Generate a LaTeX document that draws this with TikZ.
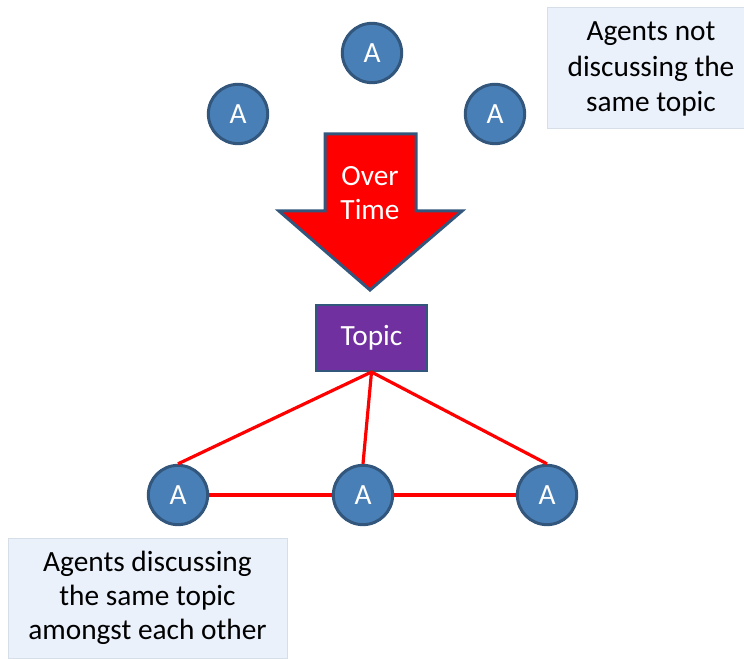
\documentclass[tikz,border=0pt]{standalone}
\usepackage{fontspec}
\setmainfont{Carlito}
\definecolor{agentfill}{RGB}{72,127,182}
\definecolor{agentedge}{RGB}{50,86,124}
\definecolor{topicfill}{RGB}{112,48,160}
\definecolor{noteback}{RGB}{234,241,251}
\definecolor{noteedge}{RGB}{214,222,232}
\begin{document}
\begin{tikzpicture}[x=0.75pt,y=-0.75pt,
  every node/.style={font=\fontsize{22}{25.5}\selectfont},
  agent/.style={circle, draw=agentedge, fill=agentfill, line width=2.25pt,
    minimum size=44.5pt, inner sep=0pt, text=white},
  topicbox/.style={rectangle, draw=agentedge, fill=topicfill, line width=1.5pt,
    minimum width=83pt, minimum height=49.5pt, text=white},
  note/.style={rectangle, draw=noteedge, fill=noteback, line width=0.6pt,
    align=center, text=black},
  link/.style={draw=red, line width=2.4pt}]
\useasboundingbox (0,0) rectangle (744,659);
\clip (0,0) rectangle (744,659);

% agents before converging on a topic
\node[agent] (t1) at (372,53) {A};
\node[agent] (t2) at (238,114) {A};
\node[agent] (t3) at (495,114) {A};

% note, top right
\node[note, minimum width=156pt, minimum height=90.75pt] (n1) at (651,67.5) {};
\node[align=center, font=\fontsize{22}{26.5}\selectfont] (n1text) at (651,69)
  {Agents not\\discussing the\\same topic};

% big downward arrow
\filldraw[fill=red, draw=agentedge, line width=2.25pt, line join=miter]
  (325,134) -- (416,134) -- (416,211) -- (462,211) -- (370,290)
  -- (279,211) -- (325,211) -- cycle;
\node[align=center, text=white] (ot) at (370,193.5) {Over\\Time};

% shared topic
\node[topicbox] (topic) at (371.5,338) {Topic};

% agents discussing the topic
\node[agent] (b1) at (178,495) {A};
\node[agent] (b2) at (363,495) {A};
\node[agent] (b3) at (547,495) {A};

\draw[link] (topic.south) -- (b1.north);
\draw[link] (topic.south) -- (b2.north);
\draw[link] (topic.south) -- (b3.north);
\draw[link] (b1.east) -- (b2.west);
\draw[link] (b2.east) -- (b3.west);

% note, bottom left
\node[note, minimum width=209.25pt, minimum height=90pt] (n2) at (147.5,598)
  {Agents discussing\\the same topic\\amongst each other};
\end{tikzpicture}
\end{document}
